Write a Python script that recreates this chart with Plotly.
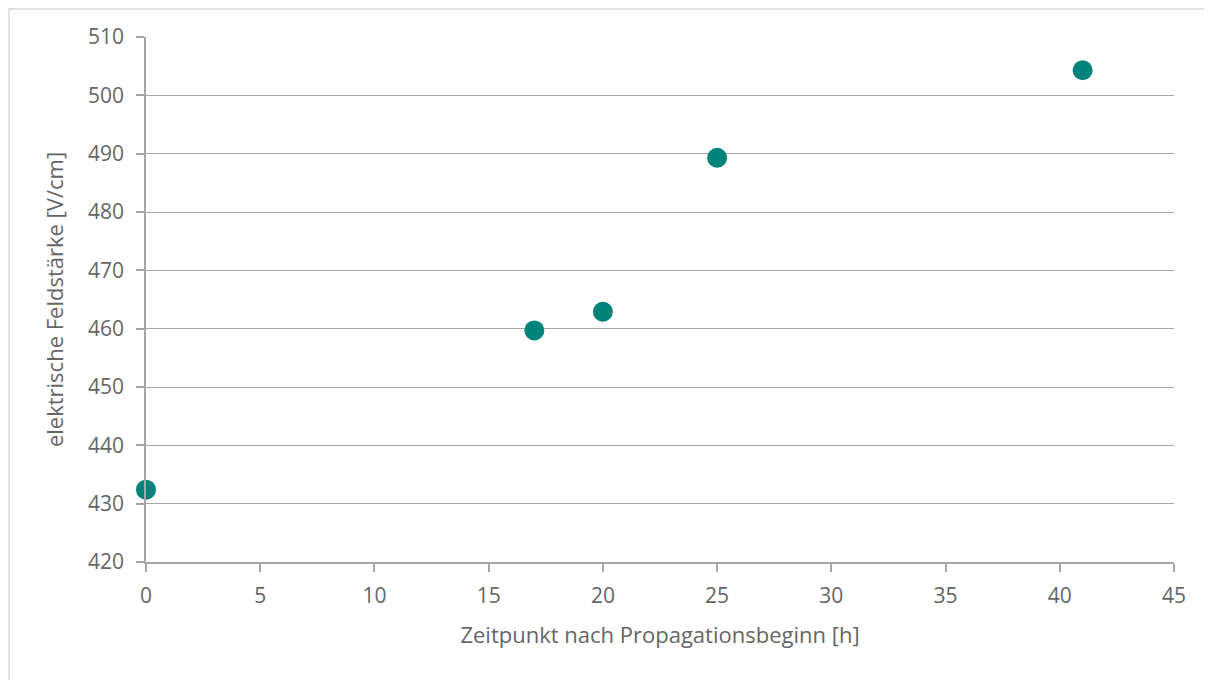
import plotly.graph_objects as go

hours = [0, 17, 20, 25, 41]
field = [432.4, 459.7, 462.9, 489.3, 504.3]

fig = go.Figure()
fig.add_trace(go.Scatter(
    x=hours, y=field, mode="markers",
    marker=dict(color="#00837A", size=20, line=dict(width=0)),
    showlegend=False, cliponaxis=False,
))

font_fam = "Open Sans, Noto Sans, sans-serif"
txt = "#666666"
fig.update_layout(
    width=1212, height=680,
    margin=dict(l=138, r=46, t=29, b=126),
    paper_bgcolor="white", plot_bgcolor="white",
    font=dict(family=font_fam, color=txt),
    xaxis=dict(
        range=[0, 45], dtick=5, tick0=0,
        showgrid=False, zeroline=False,
        showline=True, linecolor="#A6A6A6", linewidth=1.5,
        ticks="outside", ticklen=8, tickcolor="#A6A6A6", tickwidth=1.5,
        ticklabelstandoff=6,
        tickfont=dict(size=21, color=txt),
        title=dict(text="Zeitpunkt nach Propagationsbeginn [h]", font=dict(size=22, color=txt), standoff=20),
    ),
    yaxis=dict(
        range=[420, 510], dtick=10, tick0=420,
        showgrid=True, gridcolor="#A6A6A6", gridwidth=1,
        zeroline=False,
        showline=True, linecolor="#A6A6A6", linewidth=1.5,
        ticks="outside", ticklen=8, tickcolor="#A6A6A6", tickwidth=1.5,
        ticklabelstandoff=8,
        tickfont=dict(size=21, color=txt),
        title=dict(text="elektrische Feldstärke [V/cm]", font=dict(size=22, color=txt), standoff=18),
    ),
    shapes=[dict(type="rect", xref="paper", yref="paper",
                 x0=(9 - 146) / 1028, x1=(1230 - 146) / 1028,
                 y0=-0.3, y1=(562 - 9) / 525,
                 line=dict(color="#D9D9D9", width=1.5), layer="below")],
)
fig.write_html("out.html")
